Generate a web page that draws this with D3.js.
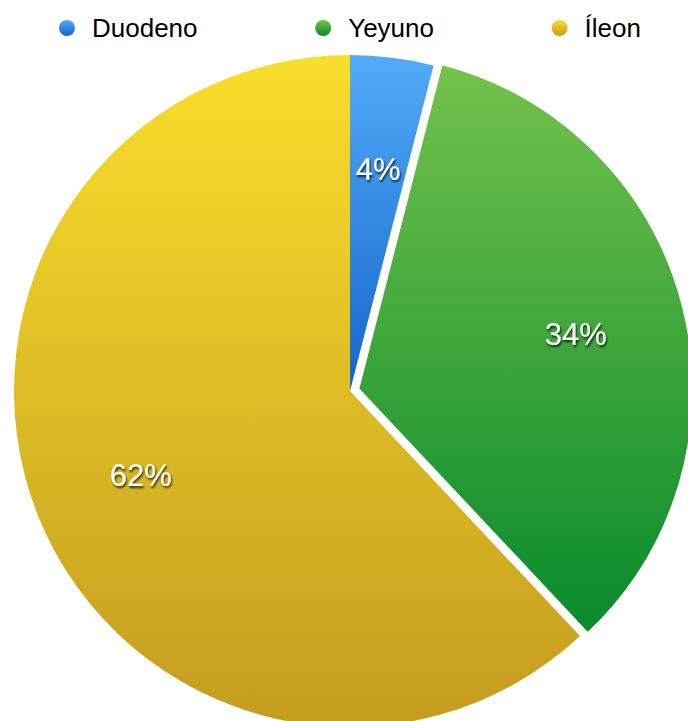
<!DOCTYPE html>
<html>
<head>
<meta charset="utf-8">
<script src="https://cdn.jsdelivr.net/npm/d3@7"></script>
<style>
    body { margin: 0; background: #fff; }
    text { font-family: "Liberation Sans", Arial, Helvetica, sans-serif; }
</style>
</head>
<body>
<div id="chart"></div>
<script>
// data
const categories = ["Duodeno", "Yeyuno", "Íleon"];
const values = [4, 34, 62];
const topColors = ["#52abf7", "#74c24b", "#f9de2c"];
const bottomColors = ["#1566cc", "#078a2c", "#c49c1f"];
const exploded = [false, true, false];

const width = 688, height = 721;
const cx = 350, cy = 391, radius = 336;

const svg = d3.select("#chart").append("svg")
    .attr("width", width)
    .attr("height", height);

const defs = svg.append("defs");

// vertical gradients for every slice
categories.forEach((c, i) => {
    let g = defs.append("linearGradient")
        .attr("id", "grad" + i)
        .attr("x1", 0).attr("y1", 0).attr("x2", 0).attr("y2", 1);
    g.append("stop").attr("offset", "0%").attr("stop-color", topColors[i]);
    g.append("stop").attr("offset", "100%").attr("stop-color", bottomColors[i]);
})

// text shadow
let f = defs.append("filter").attr("id", "shadow")
    .attr("x", "-20%").attr("y", "-20%").attr("width", "140%").attr("height", "150%");
f.append("feDropShadow")
    .attr("dx", 1).attr("dy", 2).attr("stdDeviation", 1.2)
    .attr("flood-color", "#000").attr("flood-opacity", 0.8);

const pie = d3.pie().sort(null).value(d => d.value);
const data = pie(categories.map((c, i) => ({name: c, value: values[i], i: i})));

const arc = d3.arc().innerRadius(0).outerRadius(radius);
const labelArc = d3.arc().innerRadius(225).outerRadius(225);

const offset = d => {
    if (!exploded[d.data.i]) return [0, 0];
    let a = (d.startAngle + d.endAngle) / 2;
    return [Math.sin(a) * 8, -Math.cos(a) * 8];
};

const g = svg.append("g")
    .attr("transform", `translate(${cx},${cy})`);

const slices = g.selectAll(".slice")
    .data(data)
    .enter()
    .append("g")
    .attr("class", "slice")
    .attr("transform", d => "translate(" + offset(d) + ")");

slices.append("path")
    .attr("d", arc)
    .attr("fill", d => `url(#grad${d.data.i})`)
    .attr("stroke", d => exploded[d.data.i] ? "#fff" : "none")
    .attr("stroke-width", 3);

slices.append("text")
    .attr("transform", d => {
        let p = labelArc.centroid(d);
        return `translate(${p[0]},${p[1] + 1})`;
    })
    .attr("text-anchor", "middle")
    .attr("dy", "0.35em")
    .attr("fill", "#fff")
    .attr("font-size", 31)
    .attr("filter", "url(#shadow)")
    .text(d => Math.round(d.value) + "%");

// legend: items spread between first dot and right edge, equal gaps
const legend = svg.append("g").selectAll("g")
    .data(categories)
    .enter()
    .append("g");

legend.append("circle")
    .attr("r", 8)
    .attr("fill", (d, i) => `url(#grad${i})`);

legend.append("text")
    .attr("x", 25)
    .attr("dy", "0.36em")
    .attr("font-size", 26)
    .attr("fill", "#000")
    .text(d => d);

const itemW = [];
legend.selectAll("text").each(function() { itemW.push(25 + this.getComputedTextLength()); });
const startX = 67, endX = 641;
const gap = (endX - startX - d3.sum(itemW)) / (categories.length - 1);
let xPos = startX;
legend.attr("transform", (d, i) => {
    let t = `translate(${xPos},28)`;
    xPos += itemW[i] + gap;
    return t;
});
</script>
</body>
</html>
